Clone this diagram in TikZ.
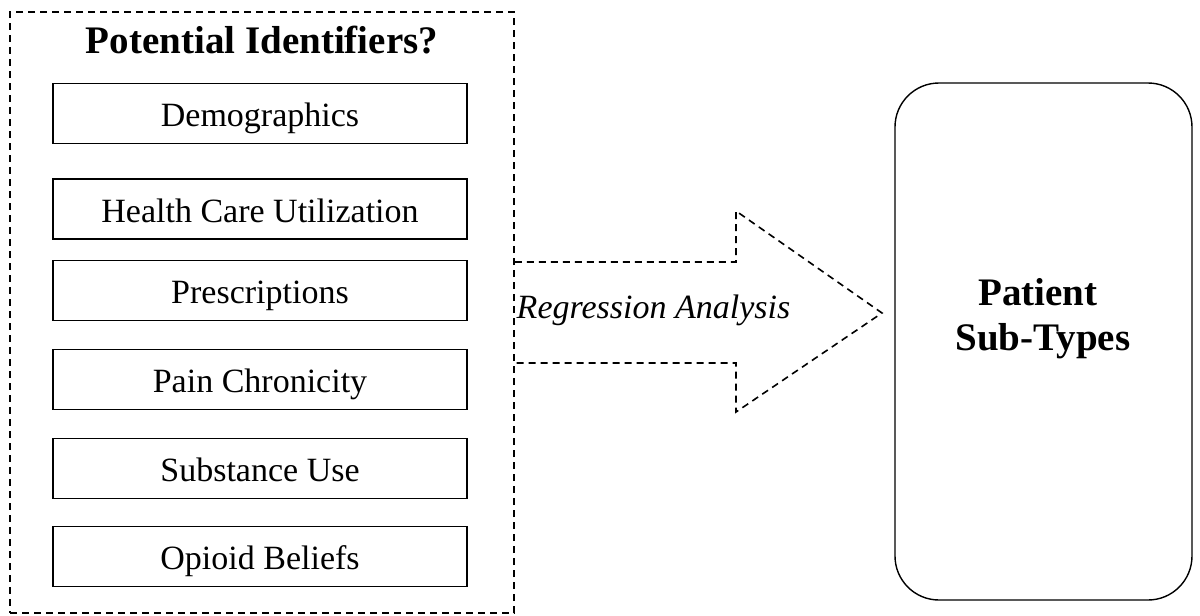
\documentclass[tikz,border=0pt]{standalone}
\usepackage{fontspec}
\setmainfont{Liberation Serif}
\begin{document}
\begin{tikzpicture}[x=1pt,y=-1pt,
  dashline/.style={line width=1.6pt, dash pattern=on 7pt off 5pt},
  itembox/.style={draw, line width=1.8pt, minimum width=414pt, minimum height=60pt, inner sep=0pt,
    text height=26pt, text depth=0pt, font=\fontsize{34}{40}\selectfont},
  bigtxt/.style={font=\bfseries\fontsize{39}{45}\selectfont, inner sep=0pt},
]
\useasboundingbox (0,0) rectangle (1200,616);
% outer dashed box
\node[dashline, draw, minimum width=504pt, minimum height=601pt, inner sep=0pt] (ob) at (262,312.5) {};
\node[bigtxt, anchor=base] (title) at (262,53) {Potential Identifiers?};
% item boxes
\node[itembox] (b1) at (260,113.5) {Demographics};
\node[itembox] (b2) at (260,209) {Health Care Utilization};
\node[itembox] (b3) at (260,290.5) {Prescriptions};
\node[itembox] (b4) at (260,379.5) {Pain Chronicity};
\node[itembox] (b5) at (260,468.5) {Substance Use};
\node[itembox] (b6) at (260,556.5) {Opioid Beliefs};
% arrow
\coordinate (tip) at (882,313);
\draw[dashline, line join=miter] (ob.east |- 0,262) -- (736,262) -- (736,211) -- (tip) -- (736,412) -- (736,363) -- (ob.east |- 0,363);
\node[font=\itshape\fontsize{34}{40}\selectfont, anchor=base, inner sep=0pt] (reg) at (653.5,318) {Regression Analysis};
% result box
\node[draw, line width=1.4pt, rounded corners=44pt, minimum width=297pt, minimum height=517pt, inner sep=0pt] (res) at (1043.5,341.5) {};
\node[bigtxt, anchor=base] (p1) at (1038,305) {Patient};
\node[bigtxt, anchor=base] (p2) at (1043,350) {Sub-Types};
\end{tikzpicture}
\end{document}
